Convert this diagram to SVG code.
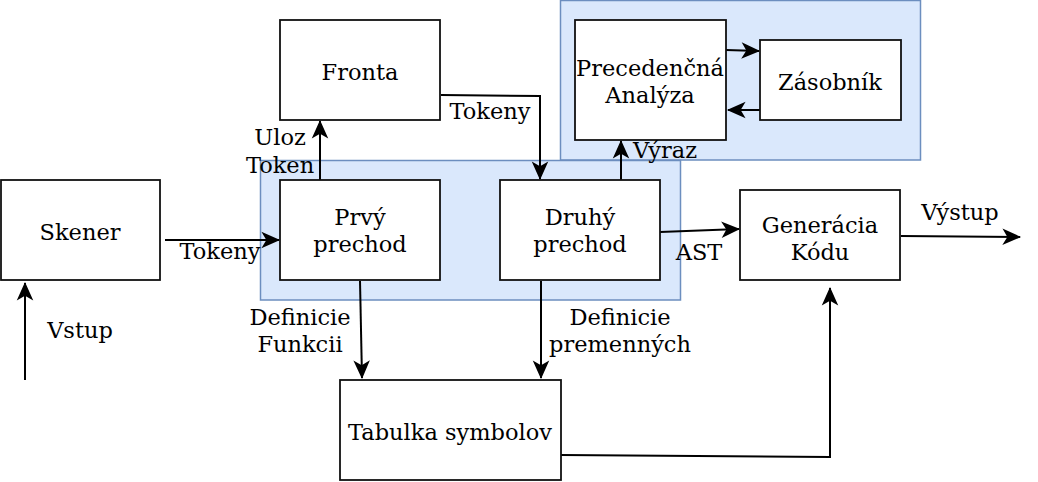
<svg xmlns="http://www.w3.org/2000/svg" width="1038" height="482" viewBox="0 0 1038 482">
<style>
.grp{fill:#dae8fc;stroke:#6c8ebf;stroke-width:1.5}
.box{fill:#fff;stroke:#111;stroke-width:1.8}
.t{font-family:"DejaVu Serif","Liberation Serif",serif;font-size:22.5px;fill:#000;text-anchor:middle}
.c{fill:none;stroke:#000;stroke-width:2;marker-end:url(#arr)}
</style>
<defs>
<marker id="arr" markerUnits="userSpaceOnUse" markerWidth="22" markerHeight="22" viewBox="-18 -9 20 18" refX="0" refY="0" orient="auto">
<path d="M1,0 L-16,-7.5 L-11.5,0 L-16,7.5 Z" fill="#000"/>
</marker>
</defs>
<g id="group-top"><rect class="grp" x="560.5" y="0.5" width="360" height="159.5"/></g>
<g id="group-main"><rect class="grp" x="260.5" y="160.5" width="420" height="139.5"/></g>

<g id="connectors">
<path class="c" d="M25,380 L25,283"/>
<path class="c" d="M165,240 L279,240"/>
<path class="c" d="M320,180 L320,121"/>
<path class="c" d="M441,95 L540,96 L540,179"/>
<path class="c" d="M621,180 L621,141"/>
<path class="c" d="M726,50 L759,51"/>
<path class="c" d="M764,110 L728,110"/>
<path class="c" d="M660,232 L739,229"/>
<path class="c" d="M901,236 L1020,237"/>
<path class="c" d="M360,281 L362,378"/>
<path class="c" d="M541,281 L541,378"/>
<path class="c" d="M561,455 L830,457 L830,288"/>
</g>

<g id="skener"><rect class="box" x="1" y="180" width="159" height="100"/><text class="t" x="80" y="240">Skener</text></g>
<g id="fronta"><rect class="box" x="280" y="20" width="160" height="100"/><text class="t" x="360" y="80">Fronta</text></g>
<g id="prvy"><rect class="box" x="280" y="180" width="160" height="100"/><text class="t" x="360" y="225">Prvý</text><text class="t" x="360" y="252">prechod</text></g>
<g id="druhy"><rect class="box" x="500" y="180" width="160" height="100"/><text class="t" x="580" y="225">Druhý</text><text class="t" x="580" y="252">prechod</text></g>
<g id="precedencna"><rect class="box" x="575" y="20" width="151" height="120"/><text class="t" x="650" y="76">Precedenčná</text><text class="t" x="650" y="103">Analýza</text></g>
<g id="zasobnik"><rect class="box" x="760" y="40" width="141" height="80"/><text class="t" x="830" y="90">Zásobník</text></g>
<g id="generacia"><rect class="box" x="740" y="190" width="160" height="90"/><text class="t" x="820" y="233">Generácia</text><text class="t" x="820" y="260">Kódu</text></g>
<g id="tabulka"><rect class="box" x="340" y="380" width="221" height="100"/><text class="t" x="450" y="440">Tabulka symbolov</text></g>

<g id="labels">
<text class="t" x="80" y="338">Vstup</text>
<text class="t" x="220" y="259">Tokeny</text>
<text class="t" x="280" y="145">Uloz</text>
<text class="t" x="280" y="173">Token</text>
<text class="t" x="490" y="119">Tokeny</text>
<text class="t" x="665" y="158">Výraz</text>
<text class="t" x="699" y="260">AST</text>
<text class="t" x="960" y="220">Výstup</text>
<text class="t" x="300" y="325">Definicie</text>
<text class="t" x="300" y="352">Funkcii</text>
<text class="t" x="620" y="325">Definicie</text>
<text class="t" x="620" y="352">premenných</text>
</g>
</svg>
